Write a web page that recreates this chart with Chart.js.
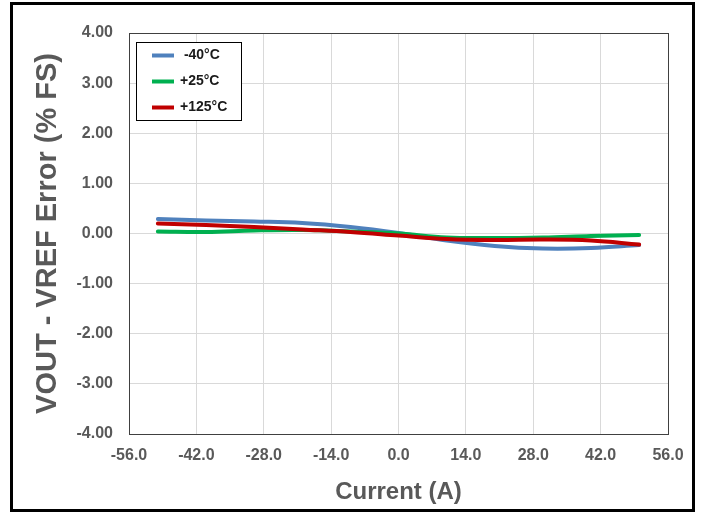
<!DOCTYPE html>
<html>
<head>
<meta charset="utf-8">
<script src="https://cdn.jsdelivr.net/npm/chart.js@4.4.1/dist/chart.umd.min.js"></script>
<style>
  html, body { margin: 0; padding: 0; background: #fff; }
  #wrap { width: 704px; height: 514px; position: relative; }
</style>
</head>
<body>
<div id="wrap"><canvas id="myChart" width="704" height="514"></canvas></div>
<script>
const currents = [-50, -40, -30, -20, -10, 0, 10, 20, 30, 40, 50];
const errMinus40 = [0.29, 0.26, 0.24, 0.21, 0.13, 0.01, -0.14, -0.25, -0.30, -0.29, -0.23];
const errPlus25 = [0.04, 0.03, 0.06, 0.07, 0.04, 0.0, -0.08, -0.09, -0.08, -0.05, -0.03];
const errPlus125 = [0.20, 0.17, 0.13, 0.08, 0.03, -0.04, -0.11, -0.13, -0.12, -0.14, -0.22];
const seriesLabels = ["-40°C", "+25°C", "+125°C"];
const seriesColors = ["#4f81bd", "#00b050", "#c00000"];
const xTitle = "Current (A)";
const yTitle = "VOUT - VREF Error (% FS)";

const toPoints = (ys) => currents.map((x, i) => ({ x: x, y: ys[i] }));

const gray = "#595959";
const fontFam = "'Liberation Sans', Arial, sans-serif";

// white page, outer frame, plot frame and boxed legend
const framePlugin = {
  id: "frame",
  beforeDraw(chart) {
    const ctx = chart.ctx;
    ctx.save();
    ctx.fillStyle = "#fff";
    ctx.fillRect(0, 0, chart.width, chart.height);
    ctx.restore();
  },
  afterDraw(chart) {
    const ctx = chart.ctx;
    const a = chart.chartArea;
    ctx.save();
    ctx.strokeStyle = "#404040";
    ctx.lineWidth = 1;
    ctx.strokeRect(Math.round(a.left) + 0.5, Math.round(a.top) + 0.5,
      Math.round(a.right - a.left), Math.round(a.bottom - a.top));

    // legend box
    const lx = a.left + 7, ly = a.top + 9, lw = 105, lh = 78;
    ctx.fillStyle = "#fff";
    ctx.fillRect(lx, ly, lw, lh);
    ctx.strokeStyle = "#000";
    ctx.strokeRect(lx + 0.5, ly + 0.5, lw, lh);
    ctx.font = "bold 14px " + fontFam;
    ctx.textBaseline = "middle";
    ctx.textAlign = "left";
    chart.data.datasets.forEach((ds, i) => {
      const y = ly + 13.5 + i * 26;
      ctx.strokeStyle = ds.borderColor;
      ctx.lineWidth = 4;
      ctx.beginPath();
      ctx.moveTo(lx + 16, y);
      ctx.lineTo(lx + 38, y);
      ctx.stroke();
      ctx.fillStyle = "#1a1a1a";
      ctx.fillText((i === 0 ? " " : "") + ds.label, lx + 44, y);
    });

    // outer frame
    ctx.strokeStyle = "#000";
    ctx.lineWidth = 3;
    ctx.strokeRect(11.5, 3.5, 682, 507);
    ctx.restore();
  }
};

new Chart("myChart", {
  type: "line",
  data: {
    datasets: [
      { label: seriesLabels[0], data: toPoints(errMinus40), borderColor: seriesColors[0], order: 2 },
      { label: seriesLabels[1], data: toPoints(errPlus25), borderColor: seriesColors[1], order: 1 },
      { label: seriesLabels[2], data: toPoints(errPlus125), borderColor: seriesColors[2], order: 0 },
    ],
  },
  options: {
    responsive: false,
    animation: false,
    events: [],
    layout: { padding: { left: 0, top: 33, right: 36, bottom: 0 } },
    elements: {
      line: { borderWidth: 4, tension: 0.4, fill: false, borderCapStyle: "round" },
      point: { radius: 0 },
    },
    plugins: {
      legend: { display: false },
      tooltip: { enabled: false },
    },
    scales: {
      x: {
        type: "linear",
        min: -56,
        max: 56,
        afterFit: (s) => { s.height = 80; },
        grid: { color: "#d9d9d9", drawTicks: false },
        border: { display: false },
        ticks: {
          stepSize: 14,
          padding: 12,
          color: gray,
          font: { family: fontFam, size: 16, weight: "bold" },
          callback: (v) => Number(v).toFixed(1),
        },
        title: {
          display: true,
          text: xTitle,
          color: gray,
          padding: { top: 0, bottom: 7 },
          font: { family: fontFam, size: 24, weight: "bold" },
        },
      },
      y: {
        min: -4,
        max: 4,
        afterFit: (s) => { s.width = 129; },
        grid: { color: "#d9d9d9", drawTicks: false },
        border: { display: false },
        ticks: {
          stepSize: 1,
          padding: 16,
          color: gray,
          font: { family: fontFam, size: 16, weight: "bold" },
          callback: (v) => Number(v).toFixed(2),
        },
        title: {
          display: true,
          text: yTitle,
          color: gray,
          padding: { top: 31, bottom: 0 },
          font: { family: fontFam, size: 29, weight: "bold" },
        },
      },
    },
  },
  plugins: [framePlugin],
});
</script>
</body>
</html>
